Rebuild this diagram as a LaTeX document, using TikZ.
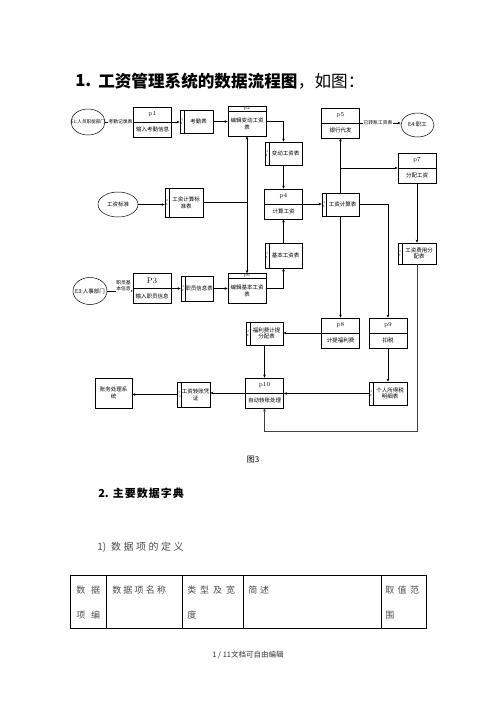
\documentclass[tikz,border=0pt]{standalone}
\usepackage{fontspec}
\newfontfamily\cjk{Noto Sans CJK SC}
\usetikzlibrary{arrows.meta,shapes.geometric,calc}
\newcommand\mkproc[5]{%
  \node[procbox] (#1) at (#2,#3) {};
  \draw (#1.west) -- (#1.east);
  \node[idtxt] (#1id) at ($(#1.center)+(0,-7.5)$) {#4};
  \node[boxtxt] (#1tx) at ($(#1.center)+(0,7.5)$) {#5};
}
\newcommand\mkedit[5]{%
  \node[procbox] (#1) at (#2,#3) {};
  \draw ($(#1.north west)+(0,5)$) -- ($(#1.north east)+(0,5)$);
  \node[font=\fontsize{4.2}{4.2}\selectfont, inner sep=0pt] (#1id) at ($(#1.north)+(0,2.5)$) {#4};
  \node[boxtxt] (#1tx) at ($(#1.center)+(0,2.5)$) {#5};
}
\newcommand\mkstore[7]{%
  \node[storebox, minimum width=#4, minimum height=#5] (#1) at (#2,#3) {};
  \draw ($(#1.north west)+(4,0)$) -- ($(#1.south west)+(4,0)$);
  \node[tinytxt] (#1id) at ($(#1.west)+(2,0)$) {#6};
  \node[boxtxt] (#1tx) at ($(#1.center)+(2,0)$) {#7};
}
\begin{document}
\begin{tikzpicture}[x=1pt,y=-1pt, line width=0.5pt,
  procbox/.style={draw, minimum width=38pt, minimum height=30pt, inner sep=0pt},
  storebox/.style={draw, inner sep=0pt},
  boxtxt/.style={font=\cjk\fontsize{5.5}{6.8}\selectfont, inner sep=0pt, align=center},
  idtxt/.style={font=\fontsize{6}{6}\selectfont, inner sep=0pt},
  tinytxt/.style={font=\fontsize{3}{3.4}\selectfont, inner sep=0pt, align=center},
  ell/.style={draw, ellipse, inner sep=0pt},
  flow/.style={-{Stealth[length=3.2pt,width=2.6pt]}},
  flowlbl/.style={font=\cjk\fontsize{4.8}{6}\selectfont, fill=white, inner sep=0.3pt, align=center},
  greytxt/.style={text=black!70, inner sep=0pt, anchor=west}]
\useasboundingbox[fill=white] (0,0) rectangle (496,702);

% title
\node[font=\cjk\bfseries\fontsize{16.6}{18}\selectfont, inner sep=0pt, anchor=west] (t1) at (75,81) {1.};
\node[font=\cjk\bfseries\fontsize{16.6}{18}\selectfont, inner sep=0pt, anchor=west] (t2) at (98,81) {工资管理系统的数据流程图};
\node[font=\cjk\fontsize{16.6}{18}\selectfont, inner sep=0pt, anchor=west] (t3) at (t2.east) {，如图：};

% externals
\node[ell, minimum width=34pt, minimum height=26pt] (E1) at (88,122) {};
\node[boxtxt, font=\cjk\fontsize{4.6}{5}\selectfont] (E1tx) at (E1) {E1:人员职能部门};
\node[ell, minimum width=34pt, minimum height=27pt] (E3) at (90,291) {};
\node[boxtxt] (E3tx) at (E3) {E3:人事部门};
\node[ell, minimum width=40pt, minimum height=25pt] (GB) at (118,204.5) {};
\node[boxtxt] (GBtx) at (GB) {工资标准};
\node[ell, minimum width=33pt, minimum height=24pt] (E4) at (417.5,125) {};
\node[boxtxt] (E4tx) at (E4) {E4:职工};

% processes
\mkproc{p1}{152.5}{122}{p1}{输入考勤信息}
\mkedit{p2}{247}{121}{p2}{编辑变动工资\\表}
\mkproc{p4}{283.5}{204}{p4}{计算工资}
\node[procbox] (p3) at (152,288.5) {};
\draw (p3.west) -- (p3.east);
\node[font=\fontsize{8}{8}\selectfont, inner sep=0pt] (p3id) at ($(p3.center)+(0,-7.5)$) {P3};
\node[boxtxt] (p3tx) at ($(p3.center)+(0,7.5)$) {输入职员信息};
\mkedit{p6}{247}{288.5}{p6}{编辑基本工资\\表}
\mkproc{p5}{340.5}{123}{p5}{银行代发}
\mkproc{p7}{417}{168}{p7}{分配工资}
\mkproc{p8}{340.5}{333}{p8}{计提福利费}
\mkproc{p9}{388}{333}{p9}{扣税}
\mkproc{p10}{264.5}{393}{p10}{自动转账处理}
\node[procbox, minimum width=37pt] (zw) at (113.5,393) {};
\node[boxtxt] (zwtx) at (zw) {账务处理系\\统};

% data stores
\mkstore{kq}{196.5}{121.5}{33pt}{23pt}{D\\1}{考勤表}
\mkstore{bd}{283.5}{153.5}{37pt}{23pt}{D\\4}{变动工资表}
\mkstore{jb}{283.5}{255.5}{37pt}{25pt}{D\\5}{基本工资表}
\mkstore{zy}{197}{288.5}{32pt}{25pt}{D\\2}{职员信息表}
\mkstore{bz}{184}{202.5}{38pt}{29pt}{D\\3}{工资计算标\\准表}
\mkstore{gj}{340.5}{204.5}{37pt}{23pt}{D\\6}{工资计算表}
\mkstore{fy}{417}{253.5}{38pt}{21pt}{D\\7}{工资费用分\\配表}
\mkstore{fl}{264.5}{333.5}{37pt}{23pt}{D\\8}{福利费计提\\分配表}
\mkstore{gs}{388}{393.5}{38pt}{23pt}{D\\9}{个人所得税\\明细表}
\mkstore{zz}{193.5}{394.5}{33pt}{25pt}{D\\10}{工资转账凭\\证}

% connectors
\draw[flow] (E1.east) -- (p1.west |- E1.east);
\node[flowlbl] (l1) at (120.5,122) {考勤记录表};
\draw[flow] (p1.east) -- (kq.west |- p1.east);
\draw[flow] (kq.east) -- (p2.west |- kq.east);
\draw[flow] (p2.east) -| (bd.north);
\draw[flow] (bd.south) -- (p4.north);
\draw[flow] (jb.north) -- (p4.south);
\draw[flow] (p6.east) -| (jb.south);
\draw[flow] (p4.east) -- (gj.west |- p4.east);
\draw[flow] (gj.north) -- (p5.south);
\coordinate (br) at (gj.north |- p7.west);
\draw[flow] (br) -- (p7.west);
\draw[flow] (p5.east) -- (E4.west |- p5.east);
\node[flowlbl] (l2) at (378,123) {已转账工资表};
\draw[flow] (gj.south) -- (p8.north);
\draw[flow] (gj.east) -| (p9.north);
\draw[flow] (p7.south) -- (fy.north);
\coordinate (lp) at (264.5,431);
\draw[flow, draw=black!75] (fy.south) |- (lp) -- (p10.south);
\draw[flow] (p8.west) -- (fl.east |- p8.west);
\draw[flow] (fl.south) -- (p10.north);
\draw[flow] (p9.south) -- (gs.north);
\draw[flow] (gs.west) -- (p10.east |- gs.west);
\draw[flow] (p10.west) -- (zz.east |- p10.west);
\draw[flow] (zz.west) -- (zw.east |- zz.west);
\draw[flow] (E3.east) -- (p3.west |- E3.east);
\node[flowlbl] (l3) at (123.5,286) {职员基\\本信息};
\draw[flow] (p3.east) -- (zy.west |- p3.east);
\draw[flow] (zy.east) -- (p6.west |- zy.east);
\draw[flow] (GB.east) -- (bz.west |- GB.east);
\coordinate (vj) at (p2.south |- bz.east);
\draw (bz.east) -- (vj);
\draw[flow] (vj) -- (p2.south);
\draw[flow] (vj) -- (p6.north);

% caption and text below
\node[font=\cjk\fontsize{8}{8}\selectfont, inner sep=0pt] (cap) at (253,460) {图3};
\node[font=\cjk\bfseries\fontsize{11}{12}\selectfont, inner sep=0pt, anchor=west] (h2) at (98,493) {2.\hspace{4pt}主\hspace{1pt}要\hspace{1pt}数\hspace{1pt}据\hspace{1pt}字\hspace{1pt}典};
\node[font=\cjk\fontsize{10}{11}\selectfont, greytxt] (h3) at (97,547) {1)\hspace{5pt}数\hspace{2.5pt}据\hspace{2.5pt}项\hspace{2.5pt}的\hspace{2.5pt}定\hspace{2.5pt}义};

% table
\draw[line width=1pt] (70,575) rectangle (426,628);
\foreach \xx in {106,182,243,381} \draw[line width=1pt] (\xx,575) -- (\xx,628);
\begin{scope}[every node/.style={font=\cjk\fontsize{9}{10}\selectfont, greytxt}]
\node (c1a) at (76,590) {数\hspace{6pt}据};
\node (c1b) at (76,615) {项\hspace{6pt}编};
\node (c2a) at (112,590) {数\hspace{2.2pt}据\hspace{2.2pt}项\hspace{2.2pt}名\hspace{2.2pt}称};
\node (c3a) at (187,590) {类\hspace{4pt}型\hspace{4pt}及\hspace{4pt}宽};
\node (c3b) at (187,615) {度};
\node (c4a) at (248,590) {简\hspace{3pt}述};
\node (c5a) at (385,590) {取\hspace{3.5pt}值\hspace{3.5pt}范};
\node (c5b) at (385,615) {围};
\end{scope}

\node[font=\cjk\fontsize{7.5}{8}\selectfont, text=black!80, inner sep=0pt] (ft) at (248,655) {1 / 11文档可自由编辑};
\end{tikzpicture}
\end{document}
